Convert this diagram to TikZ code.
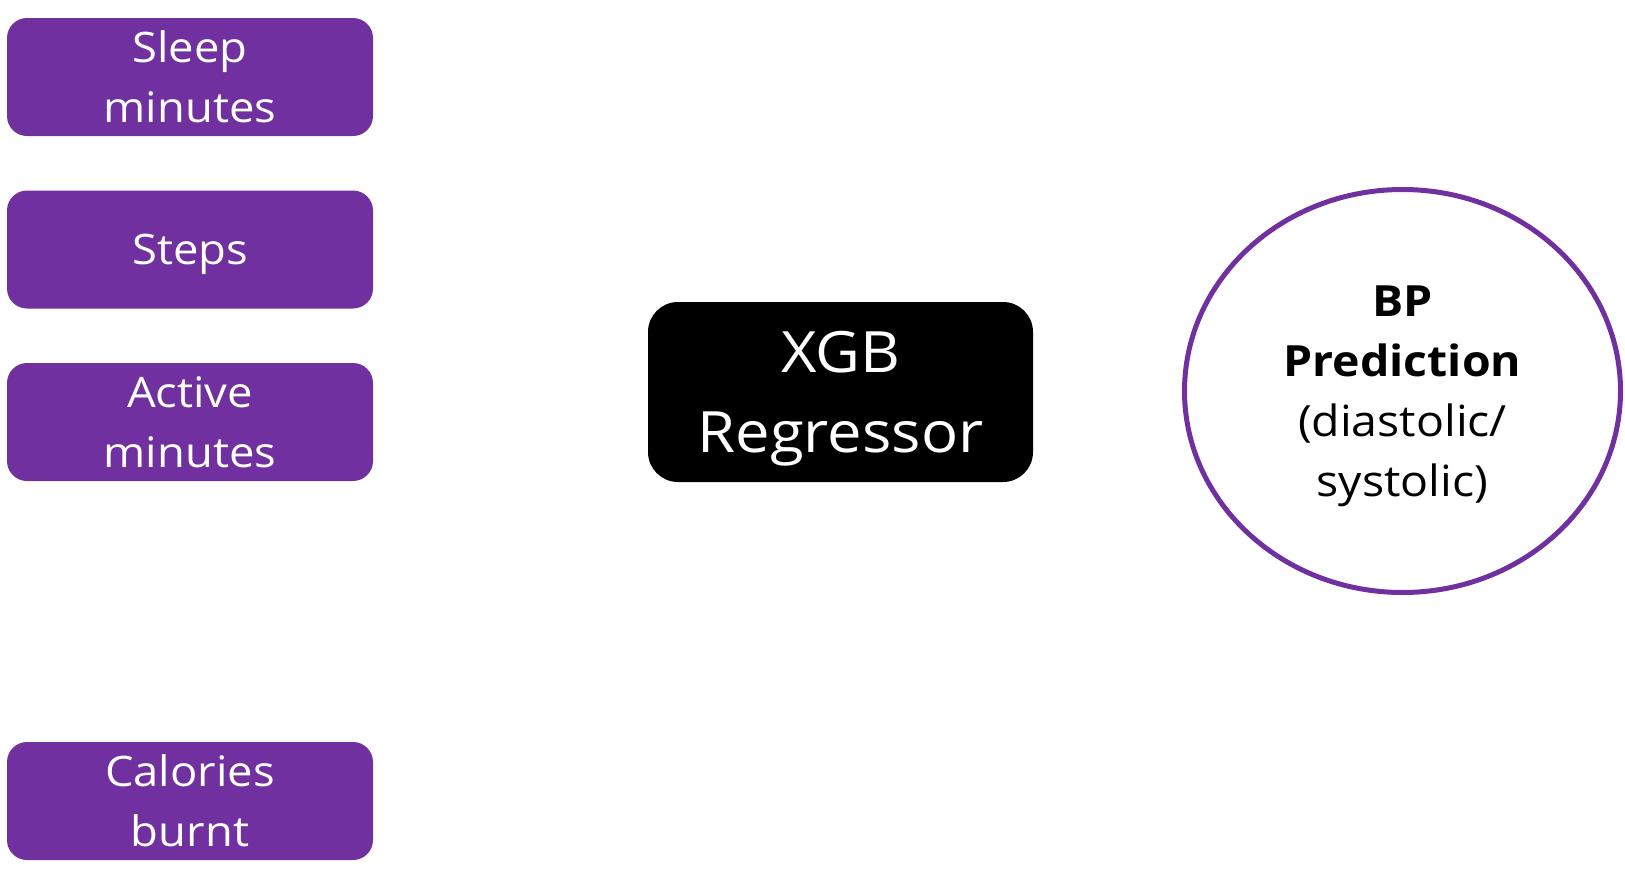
\documentclass[tikz,border=0pt]{standalone}
\usepackage{fontspec}
\setmainfont[FakeStretch=1.08]{Open Sans}
\usetikzlibrary{shapes.geometric}
\definecolor{featpurple}{HTML}{7030A0}
\tikzset{
  feature/.style={fill=featpurple, rounded corners=20pt, minimum width=366pt, minimum height=118pt,
    inner sep=0pt, text depth=0pt, text=white, align=center, font=\fontsize{42}{60}\selectfont},
  model/.style={fill=black, rounded corners=30pt, minimum width=385pt, minimum height=180pt,
    inner sep=0pt, text depth=0pt, text=white, align=center, font=\fontsize{57}{80}\selectfont},
  result/.style={draw=featpurple, line width=5pt, ellipse, minimum width=436pt, minimum height=403pt,
    inner sep=0pt, text depth=0pt, align=center, font=\fontsize{43}{60}\selectfont}
}
\begin{document}
\begin{tikzpicture}[x=1pt,y=-1pt]
\useasboundingbox (0,0) rectangle (1625,892);

% input features
\node[feature] (sleep) at (190,77) {Sleep\\minutes};
\node[feature] (steps) at (190,249.5) {Steps};
\node[feature] (active) at (190,422) {Active\\minutes};
\node[feature] (calories) at (190,801) {Calories\\burnt};

% model
\node[model] (xgb) at (840.5,392) {XGB\\Regressor};

% output
\node[result] (bp) at (1402.5,391) {\textbf{BP}\\\textbf{Prediction}\\(diastolic/\\systolic)};
\end{tikzpicture}
\end{document}
